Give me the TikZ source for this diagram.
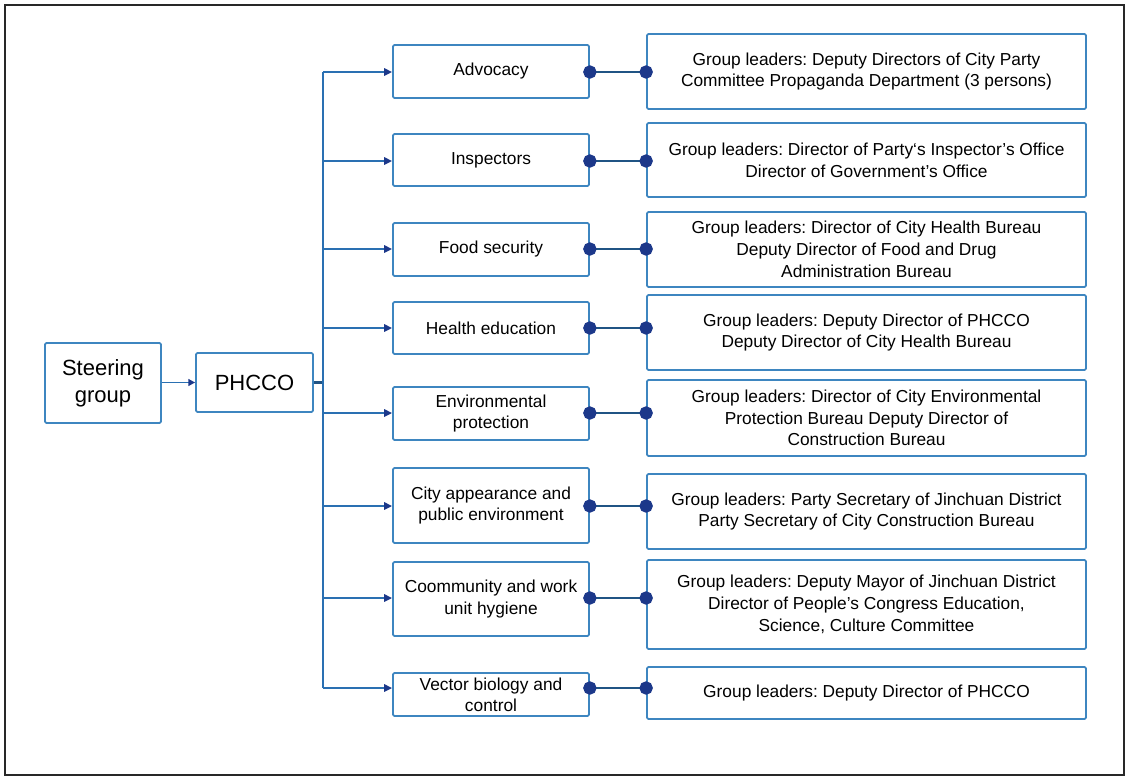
\documentclass[tikz,border=0pt]{standalone}
\usepackage{fontspec}
\setmainfont{Liberation Sans}
\usetikzlibrary{arrows.meta}
\definecolor{boxblue}{RGB}{62,134,192}
\definecolor{trunkblue}{RGB}{42,112,178}
\definecolor{dotnavy}{RGB}{28,56,138}
\definecolor{linkblue}{RGB}{32,84,132}
\definecolor{framegray}{RGB}{40,40,40}
\frenchspacing
\begin{document}
\begin{tikzpicture}[x=0.75pt,y=-0.75pt,
  box/.style={draw=boxblue,line width=1.3pt,rounded corners=1pt,fill=white,align=center,inner sep=0pt,
    font=\fontsize{13}{15.8}\selectfont},
  midbox/.style={box,minimum width=147pt},
  rbox/.style={box,minimum width=329.25pt,font=\fontsize{13}{16.3}\selectfont},
  bigbox/.style={box,font=\fontsize{16.5}{20}\selectfont},
  trunk/.style={draw=trunkblue,line width=1.8pt},
  branch/.style={draw=trunkblue,line width=1.4pt,-{Triangle[length=6pt,width=5.5pt,color=dotnavy]}},
  link/.style={draw=linkblue,line width=2.1pt,shorten <=-5pt,shorten >=-5pt,
    {Circle[length=10pt,width=10pt,color=dotnavy]}-{Circle[length=10pt,width=10pt,color=dotnavy]}},
  junction/.style={draw=linkblue,line width=2.2pt},
  feed/.style={draw=trunkblue,line width=1.2pt,-{Triangle[length=5pt,width=5pt,color=dotnavy]}}
]
\useasboundingbox (0,0) rectangle (1128,779);
\draw[framegray,line width=1.1pt] (5,5) rectangle (1124,775);

% left boxes
\node[bigbox,minimum width=87pt,minimum height=60pt] (steer) at (103,383) {Steering\\group};
\node[bigbox,minimum width=87.75pt,minimum height=44.25pt] (phc) at (254.5,382.5) {PHCCO};

% middle boxes
\node[midbox,minimum height=39.75pt] (m1) at (491,71.5) {Advocacy};
\node[midbox,minimum height=39pt] (m2) at (491,160) {Inspectors};
\node[midbox,minimum height=39.75pt] (m3) at (491,249.5) {Food security};
\node[midbox,minimum height=39pt] (m4) at (491,328) {Health education};
\node[midbox,minimum height=39.75pt] (m5) at (491,413.5) {Environmental\\protection};
\node[midbox,minimum height=56.25pt] (m6) at (491,505.5) {City appearance and\\public environment};
\node[midbox,minimum height=55.5pt] (m7) at (491,599) {Coommunity and work\\unit hygiene};
\node[midbox,minimum height=32.25pt] (m8) at (491,694.5) {Vector biology and\\control};

% right boxes
\node[rbox,minimum height=56.25pt] (r1) at (866.5,71.5) {Group leaders: Deputy Directors of City Party\\Committee Propaganda Department (3 persons)};
\node[rbox,minimum height=55.5pt] (r2) at (866.5,160) {Group leaders: Director of Party‘s Inspector’s Office\\Director of Government’s Office};
\node[rbox,minimum height=56.25pt] (r3) at (866.5,249.5) {Group leaders: Director of City Health Bureau\\Deputy Director of Food and Drug\\Administration Bureau};
\node[rbox,minimum height=56.25pt] (r4) at (866.5,332.5) {Group leaders: Deputy Director of PHCCO\\Deputy Director of City Health Bureau};
\node[rbox,minimum height=57pt] (r5) at (866.5,418) {Group leaders: Director of City Environmental\\Protection Bureau Deputy Director of\\Construction Bureau};
\node[rbox,minimum height=56.25pt] (r6) at (866.5,511.5) {Group leaders: Party Secretary of Jinchuan District\\Party Secretary of City Construction Bureau};
\node[rbox,minimum height=66.75pt] (r7) at (866.5,604.5) {Group leaders: Deputy Mayor of Jinchuan District\\Director of People’s Congress Education,\\Science, Culture Committee};
\node[rbox,minimum height=39pt] (r8) at (866.5,693) {Group leaders: Deputy Director of PHCCO};

% trunk coordinates
\coordinate (t1) at (323,72);
\coordinate (t2) at (323,161);
\coordinate (t3) at (323,249);
\coordinate (t4) at (323,328);
\coordinate (t5) at (323,413);
\coordinate (t6) at (323,506);
\coordinate (t7) at (323,598);
\coordinate (t8) at (323,688);

\draw[feed] (steer.east |- phc.west) -- (phc.west);
\draw[junction] (phc.east) -- (phc.east -| t1);
\draw[trunk] (t1) -- (t8);

\foreach \i in {1,...,8}{
  \draw[branch] (t\i) -- (t\i -| m\i.west);
  \draw[link] (t\i -| m\i.east) -- (t\i -| r\i.west);
}
\end{tikzpicture}
\end{document}
